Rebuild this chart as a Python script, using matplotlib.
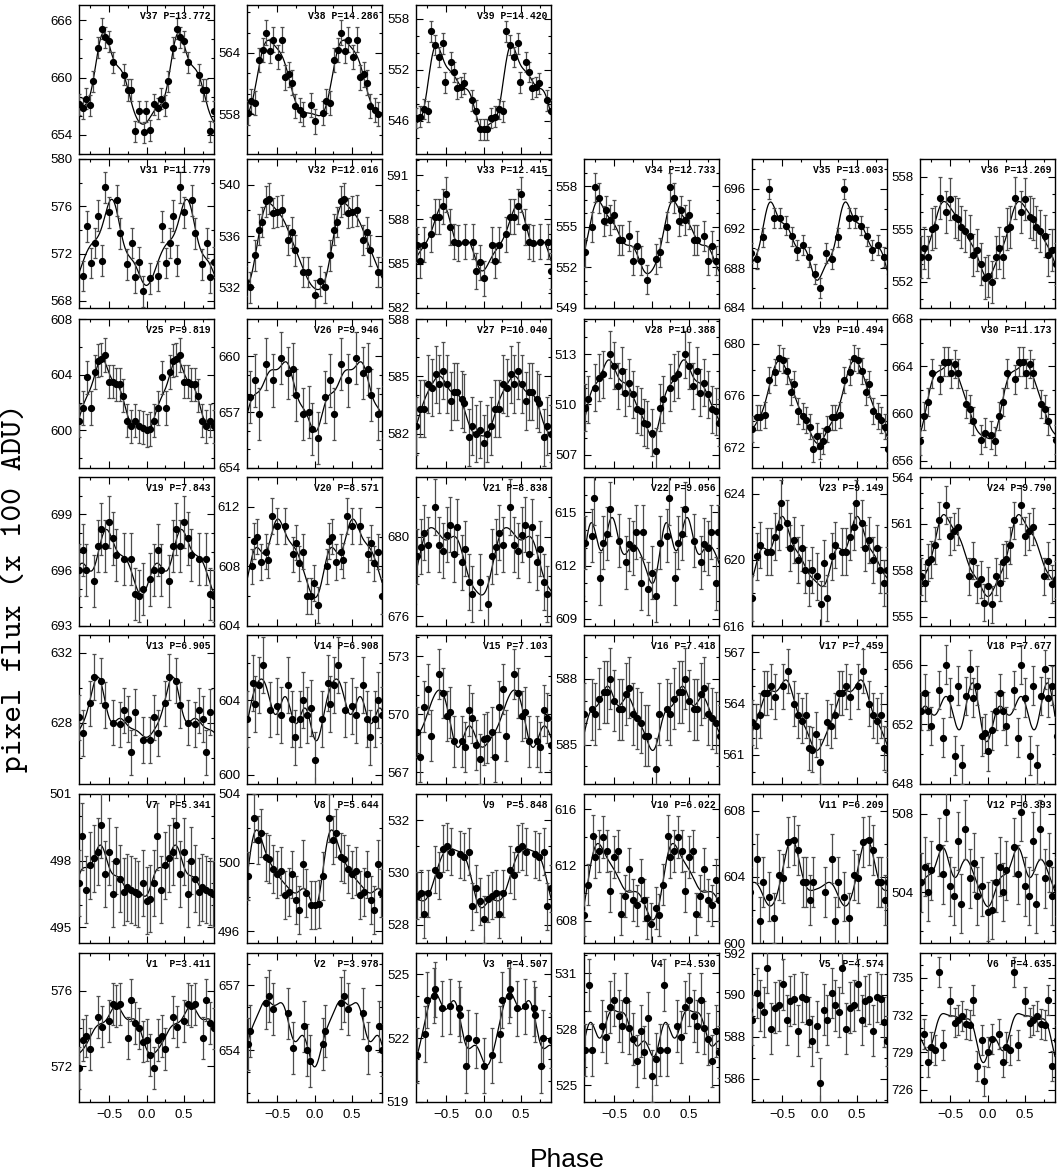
import numpy as np
import matplotlib
matplotlib.use("Agg")
import matplotlib.pyplot as plt
from matplotlib.ticker import MultipleLocator, AutoMinorLocator

# ---------------- data (phase in [0,1), flux in 100 ADU) ----------------
v1_phase = [0.00,0.043,0.10,0.148,0.20,0.248,0.348,0.41,0.50,0.548,0.595,0.643,0.748,0.795,0.852,0.90,0.948]
v1_flux = [573.4,572.6,571.9,573.4,573.6,572.9,574.6,574.1,574.4,575.3,575.2,575.3,573.5,575.5,574.3,574.0,573.3]
v2_phase = [0.11,0.145,0.35,0.393,0.45,0.65,0.707,0.864,0.90,0.945]
v2_flux = [654.3,654.9,656.2,656.5,655.9,655.7,654.1,655.1,654.0,653.5]
v3_phase = [0.00,0.11,0.22,0.244,0.335,0.354,0.45,0.555,0.67,0.69,0.766,0.794,0.90]
v3_flux = [520.7,521.2,522.2,523.8,524.0,524.3,523.4,523.5,523.4,523.1,520.7,522.0,521.9]
v4_phase = [0.00,0.054,0.108,0.162,0.207,0.342,0.396,0.45,0.505,0.56,0.604,0.658,0.70,0.757,0.81,0.856,0.90,0.955]
v4_flux = [525.5,526.4,526.9,530.4,526.9,528.2,527.6,529.2,529.6,528.7,528.2,529.6,528.1,527.5,526.3,527.9,526.8,528.6]
v5_phase = [0.005,0.06,0.104,0.163,0.213,0.258,0.303,0.357,0.41,0.466,0.51,0.566,0.61,0.665,0.71,0.765,0.82,0.855,0.905,0.96]
v5_flux = [585.8,589.3,588.8,590.1,589.5,589.2,591.3,588.4,589.4,589.5,590.5,588.8,589.7,589.8,588.3,589.9,589.8,588.7,587.8,588.5]
v6_phase = [0.00,0.054,0.153,0.207,0.252,0.306,0.35,0.405,0.505,0.56,0.604,0.658,0.71,0.766,0.80,0.856,0.92,0.955]
v6_flux = [729.0,730.1,730.5,728.2,729.4,729.2,735.5,729.6,733.1,731.4,731.6,731.9,731.3,731.2,733.2,727.9,730.0,726.7]
v7_phase = [0.00,0.043,0.10,0.143,0.195,0.248,0.30,0.348,0.395,0.448,0.50,0.552,0.595,0.643,0.70,0.743,0.795,0.852,0.89,0.952]
v7_flux = [496.2,496.3,497.0,499.1,496.7,497.8,498.1,498.4,499.6,497.4,498.4,496.5,498.0,497.2,496.6,496.8,496.7,496.6,496.5,497.0]
v8_phase = [0.00,0.055,0.11,0.19,0.24,0.29,0.35,0.39,0.45,0.50,0.555,0.61,0.66,0.70,0.755,0.79,0.84,0.88,0.955]
v8_flux = [497.5,497.6,499.2,502.6,501.3,501.7,500.3,500.2,499.6,499.3,499.5,498.1,498.3,499.3,497.8,497.2,499.9,498.2,497.5]
v9_phase = [0.00,0.057,0.11,0.163,0.21,0.258,0.354,0.407,0.455,0.507,0.565,0.69,0.746,0.804,0.852,0.90,0.952]
v9_flux = [528.2,529.0,529.1,529.2,528.4,529.2,530.1,529.9,530.9,531.0,530.8,530.7,530.6,530.8,528.7,529.4,528.9]
v10_phase = [0.054,0.10,0.153,0.216,0.252,0.306,0.35,0.405,0.45,0.505,0.55,0.595,0.65,0.70,0.757,0.80,0.856,0.90,0.946,0.99]
v10_flux = [608.9,608.4,610.6,614.1,612.6,613.0,614.0,613.0,610.1,612.6,613.0,608.5,609.8,611.7,609.5,609.1,610.9,609.5,608.2,607.8]
v11_phase = [0.072,0.163,0.208,0.24,0.32,0.39,0.457,0.51,0.575,0.656,0.71,0.774,0.82,0.87,0.914]
v11_flux = [603.1,605.1,601.3,603.7,602.8,601.5,604.1,603.9,606.1,606.2,605.6,603.7,603.7,602.6,603.7]
v12_phase = [0.01,0.054,0.108,0.162,0.207,0.252,0.35,0.405,0.45,0.505,0.55,0.60,0.65,0.70,0.766,0.82,0.86,0.92]
v12_flux = [503.0,503.1,504.5,505.3,504.0,505.1,506.3,504.9,508.1,504.3,503.8,506.6,503.4,507.2,504.7,505.5,503.8,504.3]
v13_phase = [0.043,0.10,0.148,0.248,0.30,0.395,0.448,0.548,0.643,0.70,0.748,0.795,0.85,0.948]
v13_flux = [627.0,628.3,627.4,629.1,630.6,630.4,629.0,628.0,627.9,628.7,628.2,626.3,628.6,627.0]
v14_phase = [0.00,0.10,0.18,0.20,0.255,0.307,0.40,0.50,0.55,0.65,0.70,0.745,0.80,0.845,0.90,0.95]
v14_flux = [600.8,603.0,604.9,603.8,604.8,605.9,603.5,603.7,603.2,604.8,603.0,602.0,603.0,604.0,603.2,603.6]
v15_phase = [0.00,0.048,0.11,0.158,0.21,0.26,0.30,0.407,0.455,0.507,0.55,0.603,0.708,0.756,0.804,0.852,0.895,0.952]
v15_flux = [568.7,568.8,569.1,567.8,570.4,571.3,568.9,572.1,571.1,569.9,570.1,568.6,568.6,568.3,570.2,569.8,568.4,567.7]
v16_phase = [0.054,0.104,0.207,0.252,0.297,0.36,0.405,0.45,0.505,0.56,0.60,0.658,0.70,0.757,0.81,0.856,0.91,0.955]
v16_flux = [583.9,586.4,586.6,586.4,587.1,587.4,587.4,588.0,587.0,586.6,586.6,587.3,587.6,586.4,586.2,586.0,585.4,585.4]
v17_phase = [0.005,0.104,0.15,0.208,0.258,0.303,0.357,0.41,0.51,0.575,0.656,0.71,0.765,0.82,0.855,0.90,0.95]
v17_flux = [560.6,562.9,562.7,563.3,564.6,564.6,565.0,564.4,565.0,565.9,564.0,563.3,563.0,563.3,561.4,561.3,562.2]
v18_phase = [0.01,0.054,0.108,0.162,0.207,0.252,0.35,0.405,0.45,0.505,0.56,0.60,0.657,0.71,0.766,0.81,0.865,0.92,0.964]
v18_flux = [650.2,651.6,652.9,654.1,652.9,651.9,654.3,651.1,656.0,653.8,649.9,654.6,649.3,653.9,655.7,653.8,654.6,651.2,651.4]
v19_phase = [0.052,0.10,0.148,0.195,0.305,0.352,0.395,0.448,0.50,0.548,0.595,0.70,0.795,0.852,0.90,0.952]
v19_flux = [695.5,696.0,697.1,696.0,695.4,697.3,698.2,697.3,698.6,697.7,696.8,696.6,696.6,694.7,694.6,695.0]
v20_phase = [0.045,0.16,0.193,0.23,0.288,0.35,0.383,0.43,0.50,0.60,0.707,0.755,0.793,0.84,0.90,0.955,0.995]
v20_flux = [605.4,608.0,609.7,610.0,608.3,609.0,608.4,611.4,610.7,610.7,608.8,609.6,608.2,609.0,606.0,606.0,606.9]
v21_phase = [0.057,0.115,0.163,0.21,0.263,0.354,0.40,0.455,0.507,0.555,0.603,0.65,0.708,0.756,0.804,0.852,0.952]
v21_flux = [676.6,679.0,679.5,680.2,679.6,681.5,679.6,679.3,680.1,680.6,679.1,680.5,678.7,679.4,677.7,677.1,677.7]
v22_phase = [0.00,0.054,0.108,0.207,0.234,0.315,0.35,0.405,0.45,0.56,0.66,0.70,0.75,0.793,0.856,0.89,0.955]
v22_flux = [611.6,610.3,613.3,613.7,615.8,611.3,613.3,613.8,615.2,613.4,612.2,613.2,613.0,613.9,611.0,613.9,610.7]
v23_phase = [0.014,0.06,0.104,0.163,0.213,0.303,0.357,0.41,0.457,0.493,0.566,0.61,0.665,0.71,0.77,0.80,0.855,0.905,0.96]
v23_flux = [617.3,619.8,617.7,620.2,620.9,620.5,620.5,621.4,622.0,623.4,622.2,620.7,621.2,620.0,620.7,619.4,618.6,619.4,619.0]
v24_phase = [0.01,0.054,0.108,0.162,0.207,0.252,0.306,0.35,0.45,0.50,0.55,0.60,0.757,0.80,0.856,0.91,0.955]
v24_flux = [557.0,555.8,557.6,557.2,558.5,558.7,559.6,561.2,562.2,560.2,560.5,560.8,557.6,558.6,557.1,557.4,555.9]
v25_phase = [0.00,0.052,0.105,0.157,0.205,0.257,0.31,0.348,0.395,0.448,0.50,0.552,0.595,0.643,0.69,0.743,0.795,0.852,0.90,0.948]
v25_flux = [600.0,600.1,600.7,601.6,603.8,601.6,604.2,605.0,605.1,605.4,603.5,603.5,603.3,603.3,602.5,600.7,600.3,600.7,600.3,600.2]
v26_phase = [0.045,0.145,0.207,0.255,0.35,0.45,0.55,0.65,0.71,0.755,0.85,0.93,0.97]
v26_flux = [655.6,657.8,658.7,656.9,659.6,658.7,659.9,659.1,659.3,657.9,656.9,657.0,656.1]
v27_phase = [0.00,0.048,0.096,0.158,0.206,0.263,0.316,0.364,0.41,0.46,0.512,0.565,0.603,0.65,0.708,0.746,0.804,0.852,0.895,0.952]
v27_flux = [581.5,582.0,582.4,583.3,583.3,584.6,584.4,585.1,584.6,585.3,584.6,583.7,584.2,584.2,583.8,583.6,581.8,582.4,582.0,582.2]
v28_phase = [0.00,0.054,0.113,0.158,0.252,0.297,0.35,0.44,0.505,0.55,0.613,0.644,0.694,0.75,0.81,0.856,0.90,0.946]
v28_flux = [508.3,507.2,509.8,510.3,511.0,511.6,511.8,513.0,512.3,511.1,512.0,510.7,511.3,510.6,509.7,509.6,508.9,508.8]
v29_phase = [0.00,0.05,0.104,0.163,0.208,0.267,0.32,0.40,0.457,0.51,0.56,0.62,0.665,0.71,0.774,0.82,0.873,0.914,0.96]
v29_flux = [672.1,672.5,673.4,674.3,674.3,674.5,677.2,677.8,678.9,678.7,677.9,676.3,676.9,674.8,674.4,674.1,673.6,671.9,672.9]
v30_phase = [0.05,0.10,0.158,0.203,0.26,0.36,0.423,0.47,0.518,0.568,0.604,0.71,0.766,0.81,0.91,0.96]
v30_flux = [658.2,657.7,659.8,661.0,663.4,662.9,664.4,664.4,663.4,664.2,663.4,660.8,660.4,659.4,657.8,658.4]
v31_phase = [0.04,0.15,0.205,0.257,0.31,0.352,0.405,0.452,0.505,0.60,0.652,0.743,0.80,0.852,0.90,0.948]
v31_flux = [569.9,570.1,574.3,571.2,572.9,575.2,571.4,577.6,575.5,576.5,573.7,571.1,572.9,570.0,571.3,568.8]
v32_phase = [0.00,0.07,0.14,0.21,0.26,0.30,0.35,0.39,0.445,0.50,0.56,0.65,0.70,0.745,0.84,0.907]
v32_flux = [531.4,532.5,532.0,534.5,536.5,537.1,538.7,538.9,537.8,537.9,538.0,535.7,536.3,534.9,533.2,533.2]
v33_phase = [0.01,0.11,0.15,0.21,0.30,0.35,0.40,0.455,0.50,0.55,0.61,0.655,0.75,0.86,0.90,0.95]
v33_flux = [584.0,586.3,585.2,586.3,587.0,588.2,588.2,588.9,589.7,587.5,586.5,586.4,586.5,586.5,584.5,585.1]
v34_phase = [0.054,0.108,0.207,0.252,0.306,0.36,0.396,0.45,0.495,0.56,0.60,0.70,0.757,0.80,0.856,0.946]
v34_flux = [552.6,553.1,555.0,557.9,557.1,555.4,556.2,555.5,555.9,554.0,554.0,554.3,552.5,553.6,552.5,551.1]
v35_phase = [0.005,0.086,0.163,0.24,0.32,0.394,0.475,0.557,0.63,0.706,0.774,0.855,0.937]
v35_flux = [686.0,689.5,688.9,691.1,696.0,693.1,693.1,692.3,691.2,689.8,690.3,689.1,687.4]
v36_phase = [0.01,0.054,0.108,0.153,0.207,0.26,0.306,0.36,0.45,0.50,0.563,0.608,0.653,0.70,0.766,0.81,0.86,0.91,0.964]
v36_flux = [552.3,552.0,553.4,553.9,553.4,555.0,555.1,556.8,556.0,556.7,555.7,555.6,555.1,554.9,554.6,553.5,553.8,553.0,552.2]
v37_phase = [0.04,0.10,0.15,0.19,0.25,0.29,0.35,0.40,0.45,0.50,0.55,0.70,0.75,0.79,0.85,0.90,0.96,0.995]
v37_flux = [654.5,657.2,656.8,657.8,657.1,659.6,663.1,665.1,664.2,663.8,661.6,660.3,658.7,658.7,654.4,656.5,654.3,656.5]
v38_phase = [0.00,0.11,0.15,0.20,0.264,0.31,0.35,0.40,0.45,0.51,0.56,0.61,0.655,0.70,0.74,0.81,0.85,0.955]
v38_flux = [557.3,558.1,559.3,559.1,563.3,564.3,566.0,564.2,565.3,563.6,565.3,561.6,561.9,561.1,558.8,558.4,558.0,558.9]
v39_phase = [0.00,0.048,0.096,0.153,0.21,0.258,0.30,0.354,0.40,0.455,0.49,0.56,0.60,0.646,0.694,0.74,0.85,0.895,0.952]
v39_flux = [545.0,545.0,546.3,546.5,547.4,547.1,556.5,554.9,553.5,555.1,550.5,552.9,551.7,549.8,550.0,550.4,548.4,547.2,545.0]

star_ids = list(range(1, 40))
periods = [3.411, 3.978, 4.507, 4.530, 4.574, 4.635, 5.341, 5.644, 5.848, 6.022,
           6.209, 6.393, 6.905, 6.908, 7.103, 7.418, 7.459, 7.677, 7.843, 8.571,
           8.838, 9.056, 9.149, 9.790, 9.819, 9.946, 10.040, 10.388, 10.494, 11.173,
           11.779, 12.016, 12.415, 12.733, 13.003, 13.269, 13.772, 14.286, 14.420]
flux_err = [1.1, 1.2, 1.3, 1.4, 1.2, 1.2, 1.5, 1.4, 0.9, 1.5,
            1.5, 1.5, 1.3, 1.5, 1.3, 1.4, 1.3, 1.3, 1.4, 1.2,
            1.4, 1.5, 1.4, 1.2, 1.2, 1.4, 1.5, 1.4, 1.0, 1.2,
            1.3, 1.2, 1.2, 1.1, 1.0, 1.2, 1.1, 1.2, 1.2]
has_fit = [n != 5 for n in star_ids]

phase_lists = [v1_phase, v2_phase, v3_phase, v4_phase, v5_phase, v6_phase, v7_phase, v8_phase,
               v9_phase, v10_phase, v11_phase, v12_phase, v13_phase, v14_phase, v15_phase, v16_phase,
               v17_phase, v18_phase, v19_phase, v20_phase, v21_phase, v22_phase, v23_phase, v24_phase,
               v25_phase, v26_phase, v27_phase, v28_phase, v29_phase, v30_phase, v31_phase, v32_phase,
               v33_phase, v34_phase, v35_phase, v36_phase, v37_phase, v38_phase, v39_phase]
flux_lists = [v1_flux, v2_flux, v3_flux, v4_flux, v5_flux, v6_flux, v7_flux, v8_flux,
              v9_flux, v10_flux, v11_flux, v12_flux, v13_flux, v14_flux, v15_flux, v16_flux,
              v17_flux, v18_flux, v19_flux, v20_flux, v21_flux, v22_flux, v23_flux, v24_flux,
              v25_flux, v26_flux, v27_flux, v28_flux, v29_flux, v30_flux, v31_flux, v32_flux,
              v33_flux, v34_flux, v35_flux, v36_flux, v37_flux, v38_flux, v39_flux]

# axis ranges (layout)
y_limits = [(570.1, 578), (651.6, 658.5), (519, 526), (524.1, 532.1), (584.9, 592), (725, 737),
            (494.3, 501), (495.3, 504), (527.3, 533), (606.4, 617.1), (600, 609), (501.4, 509),
            (624.5, 633), (599.5, 607.5), (566.4, 574.1), (583.2, 590), (559.3, 568), (648, 658),
            (693, 701), (604, 614), (675.5, 683), (608.6, 617), (616, 625), (554.4, 564),
            (597.3, 608), (654, 662), (580.2, 588), (506.2, 515.1), (670.4, 681.9), (655.4, 668),
            (567.4, 580), (530.4, 542), (582, 592.1), (549, 560), (684, 699), (550.5, 559),
            (652, 667.6), (554.1, 568.7), (542.1, 559.6)]
y_steps = [4, 3, 3, 3, 2, 3, 3, 4, 2, 4, 4, 4, 4, 4, 3, 3, 3, 4, 3, 4,
           4, 3, 4, 3, 4, 3, 3, 3, 4, 4, 4, 4, 3, 3, 4, 3, 6, 6, 6]
minor_div = {2: 2, 3: 3, 4: 2, 6: 3}


def fourier_model(p, f, grid, order=4, ridge=0.002):
    """Regularised least-squares Fourier series fitted to the phased points."""
    p = np.asarray(p) * 2 * np.pi
    f = np.asarray(f)
    cols = [np.ones_like(p)]
    pen = [0.0]
    for k in range(1, order + 1):
        cols += [np.cos(k * p), np.sin(k * p)]
        pen += [ridge * len(p) * k ** 4] * 2
    A = np.column_stack(cols)
    coef = np.linalg.solve(A.T @ A + np.diag(pen), A.T @ f)
    g = np.asarray(grid) * 2 * np.pi
    out = np.full_like(g, coef[0])
    for k in range(1, order + 1):
        out += coef[2 * k - 1] * np.cos(k * g) + coef[2 * k] * np.sin(k * g)
    return out


W, H = 1057, 1175
fig = plt.figure(figsize=(W / 100, H / 100), dpi=100)
col_left = [79, 247, 416, 584, 752, 920]
row_top = [5, 159, 319, 477, 635, 794, 953]
pw, ph = 135, 149
tick_font = dict(family='Liberation Sans', size=9.5)

for i, n in enumerate(star_ids):
    r = 6 - i // 6
    c = i % 6
    ax = fig.add_axes([col_left[c] / W, 1 - (row_top[r] + ph) / H, pw / W, ph / H])
    p = np.asarray(phase_lists[i])
    f = np.asarray(flux_lists[i])
    x = np.concatenate([p - 1, p])
    y = np.concatenate([f, f])
    ax.errorbar(x, y, yerr=flux_err[i], fmt='o', ms=4.2, mfc='black', mec='black',
                ecolor='0.3', elinewidth=0.9, capsize=1.6, capthick=0.9, zorder=3)
    if has_fit[i]:
        grid = np.linspace(-0.9, 0.9, 500)
        ax.plot(grid, fourier_model(p, f, grid), color='black', lw=0.9, zorder=2)
    ax.set_xlim(-0.9, 0.9)
    ax.set_ylim(*y_limits[i])
    ax.xaxis.set_major_locator(MultipleLocator(0.5))
    ax.xaxis.set_minor_locator(MultipleLocator(0.25))
    ax.yaxis.set_major_locator(MultipleLocator(y_steps[i]))
    ax.yaxis.set_minor_locator(AutoMinorLocator(minor_div[y_steps[i]]))
    ax.tick_params(which='both', direction='in', top=True, right=True, width=0.8)
    ax.tick_params(which='major', length=5, pad=5)
    ax.tick_params(which='minor', length=2.5)
    if r == 6:
        ax.set_xticks([-0.5, 0.0, 0.5])
        ax.set_xticklabels(['\u22120.5', '0.0', '0.5'], **tick_font)
    else:
        ax.tick_params(labelbottom=False)
    ax.set_yticks(ax.get_yticks())
    ax.set_yticklabels([f"{int(round(t))}" for t in ax.get_yticks()], **tick_font)
    ax.set_ylim(*y_limits[i])
    for s in ax.spines.values():
        s.set_linewidth(1.0)
    ax.text(0.975, 0.925, f"{'V%d' % n:<3} P={periods[i]:.3f}", transform=ax.transAxes,
            ha='right', va='center', family='Liberation Mono', weight='bold', size=7)

fig.text(14 / W, 1 - 588 / H, "pixel flux (x 100 ADU)", rotation=90, family='cmtt10',
         size=23, ha='center', va='center')
fig.text(567 / W, 1 - 1160 / H, "Phase", family='Liberation Sans', size=19,
         ha='center', va='center')

fig.savefig("out.png", dpi=100)
